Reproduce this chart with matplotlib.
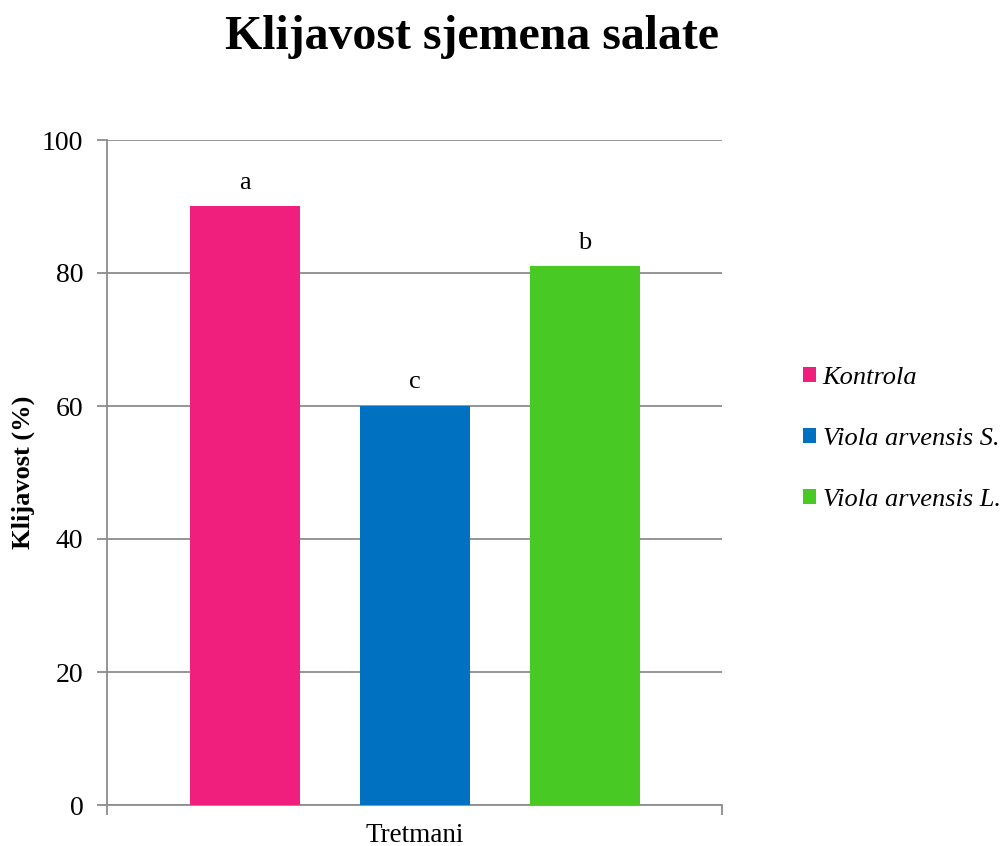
import matplotlib
matplotlib.use("Agg")
import matplotlib.pyplot as plt
from matplotlib.patches import Patch

categories = ["Kontrola", "Viola arvensis S.", "Viola arvensis L."]
values = [90, 60, 81]
letters = ["a", "c", "b"]
colors = ["#F01F7E", "#0070C0", "#48C923"]
yticks = [0, 20, 40, 60, 80, 100]

plt.rcParams['font.family'] = ['Liberation Serif', 'DejaVu Serif']

fig = plt.figure(figsize=(10.04, 8.46), dpi=100)
ax = fig.add_axes([107/1004, 41/846, 615/1004, 665/846])

x = list(range(len(categories)))
bars = ax.bar(x, values, width=110/170, color=colors, zorder=3)
for xi, v, l in zip(x, values, letters):
    ax.annotate(l, (xi, v), xytext=(0, 17), textcoords="offset points",
                ha="center", va="center", fontsize=19)

ax.set_xlim(-138/170, 2 + 137/170)
ax.set_ylim(0, 100)
ax.set_yticks(yticks)
ax.set_yticklabels([str(t) for t in yticks], fontsize=20)
ax.yaxis.grid(True, color="#8C8C8C", linewidth=1.3, zorder=0)
ax.set_axisbelow(True)
ax.tick_params(axis="y", length=7, width=1.3, color="#8C8C8C", pad=10)
ax.set_xticks([-138/170, 2 + 137/170])
ax.set_xticklabels(["", ""])
ax.tick_params(axis="x", length=7, width=1.3, color="#8C8C8C")
for s in ["top", "right"]:
    ax.spines[s].set_visible(False)
for s in ["left", "bottom"]:
    ax.spines[s].set_color("#8C8C8C")
    ax.spines[s].set_linewidth(1.3)

ax.set_xlabel("Tretmani", fontsize=19.5, va="center")
ax.xaxis.set_label_coords(0.5, (805 - 835) / 665)
ax.set_ylabel("Klijavost (%)", fontsize=19, fontweight="bold", va="center")
ax.yaxis.set_label_coords((23 - 107) / 615, 0.5)

fig.text(472/1004, 1 - 37/846, "Klijavost sjemena salate", ha="center", va="center",
         fontsize=34.5, fontweight="bold")

handles = [Patch(facecolor=c, edgecolor="none") for c in colors]
leg = fig.legend(handles, categories, loc="center left", bbox_to_anchor=(803/1004, 1 - 439/846),
                 frameon=False, prop={"style": "italic", "size": 19}, handlelength=0.5,
                 handleheight=0.5, handletextpad=0.25, labelspacing=1.47, borderpad=0, borderaxespad=0)

fig.savefig("out.png", dpi=100)
